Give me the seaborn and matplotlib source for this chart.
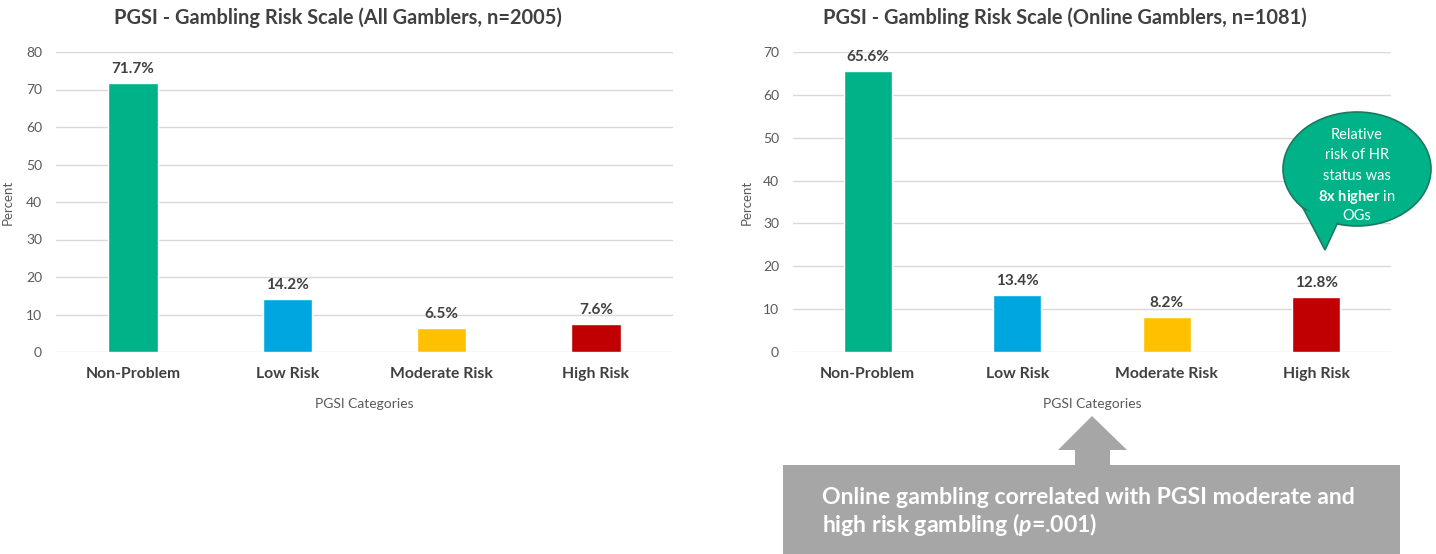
import matplotlib
matplotlib.use("Agg")
import matplotlib.pyplot as plt
import seaborn as sns
from matplotlib.patches import Ellipse, Polygon, Rectangle

categories = ["Non-Problem", "Low Risk", "Moderate Risk", "High Risk"]
all_vals = [71.7, 14.2, 6.5, 7.6]
online_vals = [65.6, 13.4, 8.2, 12.8]
bar_colors = ["#00B287", "#00A6E0", "#FFC000", "#C00000"]
titles = ["PGSI - Gambling Risk Scale (All Gamblers, n=2005)",
          "PGSI - Gambling Risk Scale (Online Gamblers, n=1081)"]
ylims = [80, 70]

sns.set_theme(style="white")
plt.rcParams['font.family'] = ['Lato', 'DejaVu Sans']
plt.rcParams['mathtext.fontset'] = 'custom'
plt.rcParams['mathtext.it'] = 'Lato:bold:italic'
plt.rcParams['mathtext.rm'] = 'Lato'
plt.rcParams['mathtext.bf'] = 'Lato:bold'

W, H = 1436, 554
fig = plt.figure(figsize=(W / 100, H / 100), dpi=100)

def fx(px):
    return px / W

def fy(py):
    return 1 - py / H

axes_px = [(56, 673), (793, 1391)]
title_x = [338, 1065]
for i, (vals, (x0, x1)) in enumerate(zip([all_vals, online_vals], axes_px)):
    ax = fig.add_axes([fx(x0), fy(352), fx(x1 - x0), 300 / H])
    sns.barplot(x=categories, y=vals, hue=categories, palette=bar_colors,
                width=0.32, saturation=1, legend=False, ax=ax, zorder=3)
    ax.set_ylim(0, ylims[i])
    ax.set_xlim(-0.5, 3.5)
    ax.set_yticks(range(0, ylims[i] + 1, 10))
    ax.yaxis.grid(True, color="#d9d9d9", lw=1, zorder=0)
    ax.set_axisbelow(True)
    for s in ax.spines.values():
        s.set_visible(False)
    ax.tick_params(axis="both", length=0)
    ax.tick_params(axis="y", labelsize=10, labelcolor="#595959", pad=10)
    ax.tick_params(axis="x", labelsize=11.3, labelcolor="#404040", pad=11)
    for lab in ax.get_xticklabels():
        lab.set_fontweight("bold")
    ax.set_ylabel("Percent", fontsize=9.5, color="#595959")
    ax.yaxis.set_label_coords(-0.068, 0.5)
    ax.set_xlabel("PGSI Categories", fontsize=10, color="#595959")
    ax.xaxis.set_label_coords(0.5, -0.153)
    for cont in ax.containers:
        ax.bar_label(cont, labels=[f"{v:.1f}%" for v in cont.datavalues],
                     padding=5, fontsize=11, fontweight="bold", color="#404040")
    fig.text(fx(title_x[i]), fy(18), titles[i], ha="center", va="center",
             fontsize=14.4, fontweight="bold", color="#404040")

# overlay for annotations in pixel coordinates
ov = fig.add_axes([0, 0, 1, 1], zorder=10)
ov.set_xlim(0, W)
ov.set_ylim(H, 0)
ov.axis("off")
ov.patch.set_alpha(0)

# speech bubble
green = "#00B287"
edge = "#1a7a60"
ov.add_patch(Ellipse((1357, 169), 148, 114, facecolor=green, edgecolor=edge, lw=1.2, zorder=1))
ov.add_patch(Polygon([(1303, 208), (1338, 222), (1325, 250)], closed=True,
                     facecolor=green, edgecolor=edge, lw=1.2, zorder=2))
ov.add_patch(Ellipse((1357, 169), 145, 111, facecolor=green, edgecolor="none", zorder=3))
lines = ["Relative", "risk of HR", "status was", r"$\mathbf{8x\ higher}$ in", "OGs"]
ys = [135, 155, 176, 197, 216]
for t, y in zip(lines, ys):
    ov.text(1357, y, t, ha="center", va="center", fontsize=10.5, color="white", zorder=4)

# gray box with arrow
gray = "#A6A6A6"
ov.add_patch(Polygon([(1075, 466), (1075, 450), (1058, 450), (1092, 416),
                      (1127, 450), (1110, 450), (1110, 466)], closed=True,
                     facecolor=gray, edgecolor="none", zorder=1))
ov.add_patch(Rectangle((783, 465), 617, 95, facecolor=gray, edgecolor="none", zorder=1))
ov.text(822, 497, "Online gambling correlated with PGSI moderate and", ha="left", va="center",
        fontsize=16.6, fontweight="bold", color="white", zorder=4)
ov.text(822, 524, r"high risk gambling ($p$=.001)", ha="left", va="center",
        fontsize=16.6, fontweight="bold", color="white", zorder=4)

fig.savefig("out.png", dpi=100)
